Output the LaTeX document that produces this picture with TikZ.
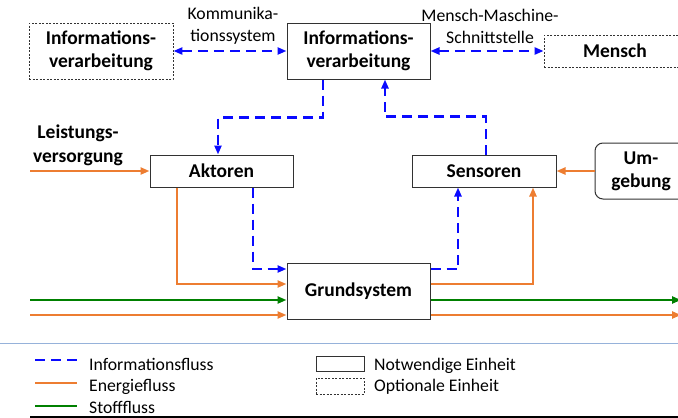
\documentclass[tikz,border=0pt]{standalone}
\usepackage{fontspec}
\setmainfont{Carlito}
\usetikzlibrary{arrows.meta, positioning, calc}
\definecolor{infoblue}{RGB}{10,10,255}
\definecolor{energyorange}{RGB}{237,125,49}
\definecolor{mattergreen}{RGB}{0,128,0}
\definecolor{rulegray}{RGB}{150,178,218}
\definecolor{framegray}{RGB}{50,50,50}

\begin{document}
\begin{tikzpicture}[
    x=1pt, y=-1pt,
    unit/.style={draw=framegray, line width=1pt, fill=white, minimum width=143pt, minimum height=32pt, inner sep=0pt, font=\fontsize{19.5}{23}\selectfont\bfseries, align=center},
    optunit/.style={unit, dash pattern=on 2pt off 1.5pt, line width=0.8pt},
    flowlabel/.style={font=\fontsize{17.7}{22}\selectfont, align=center, inner sep=0pt},
    legendtext/.style={font=\fontsize{17.7}{22}\selectfont, anchor=base west, inner sep=0pt},
    flowtip/.style={-{Triangle[length=9pt, width=7pt]}},
    bothtips/.style={{Triangle[length=9pt, width=7pt]}-{Triangle[length=9pt, width=7pt]}},
    infoarrow/.style={flowtip, infoblue, line width=2.4pt, dash pattern=on 10pt off 6pt},
    energyarrow/.style={flowtip, energyorange, line width=2.2pt},
    matterarrow/.style={flowtip, mattergreen, line width=2.2pt}
]
    \useasboundingbox (0,0) rectangle (678,418);

    % Units
    \node[optunit, minimum width=144pt, minimum height=56pt] (infoext) at (101,51) {Informations-\\verarbeitung};
    \node[unit, minimum height=56pt] (info) at (358.5,51) {Informations-\\verarbeitung};
    \node[optunit, minimum width=142pt] (mensch) at (615,51) {Mensch};
    \node[unit] (aktoren) at (221.5,171) {Aktoren};
    \node[unit, minimum width=144pt] (sensoren) at (484,171) {Sensoren};
    \node[unit, rounded corners=8pt, minimum width=92pt, minimum height=56pt] (umgebung) at (641,171) {Um-\\gebung};
    \node[unit, minimum height=56pt] (grund) at (358.5,291) {Grundsystem};

    % Labels
    \node[flowlabel] (komm) at (233,26) {Kommunika-\\tionssystem};
    \node[flowlabel] (mmi) at (490,26) {Mensch-Maschine-\\Schnittstelle};
    \node[flowlabel, font=\fontsize{19.5}{24}\selectfont\bfseries] (power) at (78,145) {Leistungs-\\versorgung};

    % Free ends of the flows
    \coordinate (powerin) at (30,171);
    \coordinate (matterin) at (30,300);
    \coordinate (energyin) at (30,315);
    \coordinate (matterout) at (681,300);
    \coordinate (energyout) at (681,315);

    % Information flow
    \draw[infoarrow, bothtips] (infoext) -- (info);
    \draw[infoarrow, bothtips] (info) -- (mensch);
    \draw[infoarrow] ([xshift=-35.5pt]info.south) -- ++(0,38) -| ([xshift=-3.5pt]aktoren.north);
    \draw[infoarrow] ([xshift=2pt]sensoren.north) -- ++(0,-38) -| ([xshift=26.5pt]info.south);
    \draw[infoarrow] ([xshift=31.5pt]aktoren.south) |- ([yshift=22pt]grund.west);
    \draw[infoarrow] ([yshift=22pt]grund.east) -| ([xshift=-26pt]sensoren.south);

    % Energy flow
    \draw[energyarrow] (powerin) -- (aktoren.west);
    \draw[energyarrow] ([xshift=-44.5pt]aktoren.south) |- ([yshift=7pt]grund.west);
    \draw[energyarrow] ([yshift=7pt]grund.east) -| ([xshift=49pt]sensoren.south);
    \draw[energyarrow] (umgebung.west) -- (sensoren.east);
    \draw[energyarrow] (energyin) -- ([yshift=-24pt]grund.west);
    \draw[energyarrow] ([yshift=-24pt]grund.east) -- (energyout);

    % Material flow
    \draw[matterarrow] (matterin) -- ([yshift=-9pt]grund.west);
    \draw[matterarrow] ([yshift=-9pt]grund.east) -- (matterout);

    % Legend
    \draw[rulegray, line width=1pt] (0,343) -- (678,343);
    \draw[black, line width=1.2pt] (30,417) -- (678,417);
    \draw[infoblue, line width=2.4pt, dash pattern=on 10pt off 6pt] (35,360) -- (77,360);
    \draw[energyorange, line width=2.2pt] (35,383) -- (77,383);
    \draw[mattergreen, line width=2.2pt] (35,406) -- (77,406);
    \node[legendtext] (leginfo) at (89,370) {Informationsfluss};
    \node[legendtext] (legenergy) at (89,391.5) {Energiefluss};
    \node[legendtext] (legmatter) at (89,413) {Stofffluss};
    \node[unit, minimum width=48pt, minimum height=15pt] (legneed) at (340,363.5) {};
    \node[optunit, minimum width=48pt, minimum height=16pt] (legopt) at (340,386) {};
    \node[legendtext] (legneedtxt) at (374,370) {Notwendige Einheit};
    \node[legendtext] (legopttxt) at (374,391.5) {Optionale Einheit};
\end{tikzpicture}
\end{document}
